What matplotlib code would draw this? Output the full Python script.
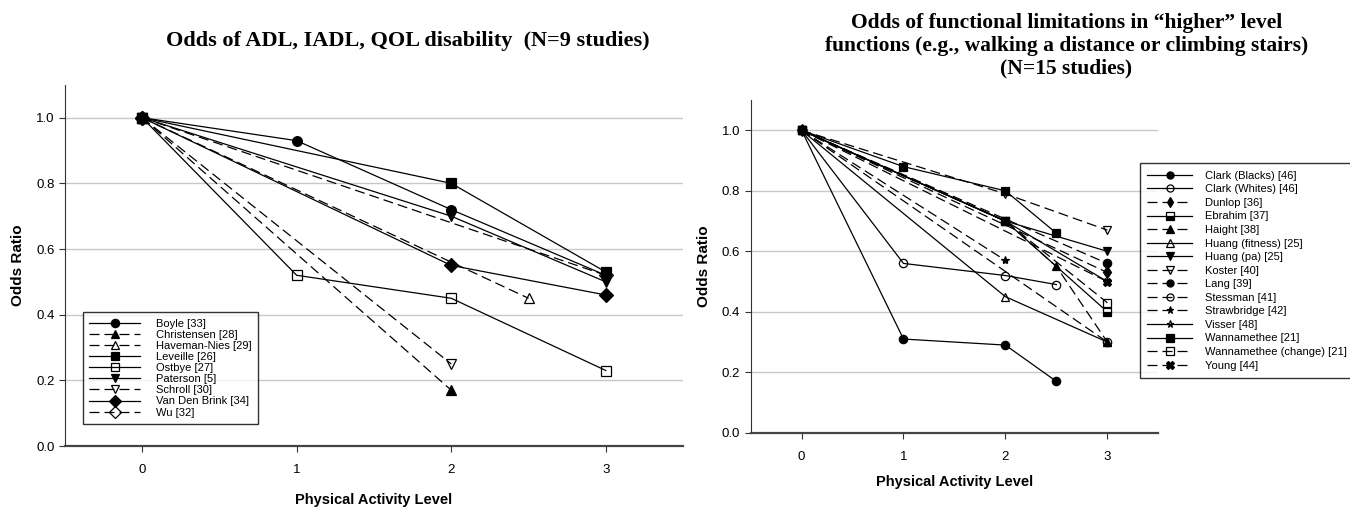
import matplotlib
matplotlib.use("Agg")
import matplotlib.pyplot as plt

# left panel: ADL / IADL / QOL disability
adl_names = ["Boyle [33]", "Christensen [28]", "Haveman-Nies [29]", "Leveille [26]",
             "Ostbye [27]", "Paterson [5]", "Schroll [30]", "Van Den Brink [34]", "Wu [32]"]
adl_x = [[0, 1, 2, 3], [0, 2], [0, 2.5], [0, 2, 3], [0, 1, 2, 3], [0, 2, 3], [0, 2], [0, 2, 3], [0, 3]]
adl_y = [[1.0, 0.93, 0.72, 0.52], [1.0, 0.17], [1.0, 0.45], [1.0, 0.80, 0.53],
         [1.0, 0.52, 0.45, 0.23], [1.0, 0.70, 0.50], [1.0, 0.25], [1.0, 0.55, 0.46], [1.0, 0.52]]

# right panel: functional limitations in "higher" level functions
hl_names = ["Clark (Blacks) [46]", "Clark (Whites) [46]", "Dunlop [36]", "Ebrahim [37]",
            "Haight [38]", "Huang (fitness) [25]", "Huang (pa) [25]", "Koster [40]",
            "Lang [39]", "Stessman [41]", "Strawbridge [42]", "Visser [48]",
            "Wannamethee [21]", "Wannamethee (change) [21]", "Young [44]"]
hl_x = [[0, 1, 2, 2.5], [0, 1, 2, 2.5], [0, 3], [0, 2, 3], [0, 2, 2.5, 3], [0, 2, 3], [0, 2, 3],
        [0, 2, 3], [0, 3], [0, 3], [0, 2], [0, 2, 3], [0, 1, 2, 2.5], [0, 2, 3], [0, 3]]
hl_y = [[1.0, 0.31, 0.29, 0.17], [1.0, 0.56, 0.52, 0.49], [1.0, 0.53], [1.0, 0.70, 0.40],
        [1.0, 0.70, 0.55, 0.30], [1.0, 0.45, 0.30], [1.0, 0.70, 0.60], [1.0, 0.79, 0.67],
        [1.0, 0.56], [1.0, 0.30], [1.0, 0.57], [1.0, 0.70, 0.50], [1.0, 0.88, 0.80, 0.66],
        [1.0, 0.70, 0.43], [1.0, 0.50]]

# styles: (marker, filled, dashed)
adl_style = [("o", "full", False), ("^", "full", True), ("^", "none", True), ("s", "full", False),
             ("s", "none", False), ("v", "full", False), ("v", "none", True), ("D", "full", False),
             ("D", "none", True)]
hl_style = [("o", "full", False), ("o", "none", False), ("d", "full", True), ("s", "bottom", False),
            ("^", "full", True), ("^", "none", False), ("v", "full", False), ("v", "none", True),
            ("o", "full", True), ("o", "none", True), ("*", "full", True), ("*", "none", False),
            ("s", "full", False), ("s", "none", True), ("X", "full", True)]

plt.rcParams["font.family"] = ["Liberation Sans", "DejaVu Sans"]

fig = plt.figure(figsize=(13.5, 5.08), dpi=100)
ax1 = fig.add_axes([0.048, 0.122, 0.458, 0.711])
ax2 = fig.add_axes([0.556, 0.148, 0.302, 0.655])


def draw(ax, names, xs, ys, styles, ms, labelpad):
    for name, x, y, (mk, fill, dash) in zip(names, xs, ys, styles):
        ax.plot(x, y, color="black", lw=0.9, ls=(0, (8, 4)) if dash else "-",
                marker=mk, ms=ms, fillstyle=fill, markerfacecolor="black" if fill != "none" else "white",
                markerfacecoloralt="white", markeredgecolor="black", markeredgewidth=0.9,
                label=name)
    ax.set_xlim(-0.5, 3.5)
    ax.set_ylim(0, 1.1)
    ax.set_xticks([0, 1, 2, 3])
    ax.set_yticks([0.0, 0.2, 0.4, 0.6, 0.8, 1.0])
    ax.set_yticklabels(["0.0", "0.2", "0.4", "0.6", "0.8", "1.0"])
    for v in [0.2, 0.4, 0.6, 0.8, 1.0]:
        ax.axhline(v, color="#c8c8c8", lw=1.0, zorder=0)
    for s in ["top", "right"]:
        ax.spines[s].set_visible(False)
    ax.spines["left"].set_color("#333333")
    ax.spines["bottom"].set_color("#444444")
    ax.spines["bottom"].set_linewidth(1.6)
    ax.tick_params(direction="out", length=4, width=0.8, colors="#333333", labelsize=9.5,
                   labelcolor="black")
    ax.tick_params(axis="x", pad=9)
    ax.set_xlabel("Physical Activity Level", fontsize=10.5, fontweight="bold", labelpad=labelpad)
    ax.set_ylabel("Odds Ratio", fontsize=11, fontweight="bold", labelpad=8)


draw(ax1, adl_names, adl_x, adl_y, adl_style, 7, 12)
draw(ax2, hl_names, hl_x, hl_y, hl_style, 6, 9)

leg1 = ax1.legend(loc="lower left", bbox_to_anchor=(0.02, 0.045), fontsize=8, frameon=True,
                  fancybox=False, edgecolor="black", handlelength=4.6, labelspacing=0.1,
                  borderpad=0.6, handletextpad=1.4, markerscale=0.85)
leg1.get_frame().set_linewidth(1.0)

leg2 = ax2.legend(loc="upper left", bbox_to_anchor=(0.84, 0.69), bbox_transform=fig.transFigure,
                  fontsize=8, frameon=True, fancybox=False, edgecolor="black", handlelength=4.0,
                  labelspacing=0.32, borderpad=0.7, handletextpad=1.2, markerscale=0.85)
leg2.get_frame().set_linewidth(1.0)

fig.text(0.302, 0.92, "Odds of ADL, IADL, QOL disability  (N=9 studies)", ha="center", va="center",
         fontsize=16, fontweight="bold", family="Liberation Serif")
fig.text(0.79, 0.91, "Odds of functional limitations in \u201chigher\u201d level\n"
         "functions (e.g., walking a distance or climbing stairs)\n(N=15 studies)",
         ha="center", va="center", fontsize=15.5, fontweight="bold", family="Liberation Serif",
         linespacing=1.2)

fig.savefig("out.png", dpi=100)
